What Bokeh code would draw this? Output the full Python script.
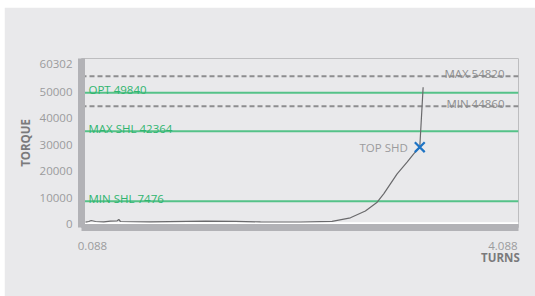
from bokeh.plotting import figure
from bokeh.models import Range1d, FixedTicker, Span, LinearAxis
from bokeh.core.properties import value
from bokeh.embed import file_html
from bokeh.resources import INLINE

# ---- data ----
turns = [0.093, 0.123, 0.145, 0.185, 0.261, 0.323, 0.385, 0.400, 0.415, 0.692,
         1.200, 1.476, 1.707, 2.076, 2.368, 2.537, 2.675, 2.784, 2.844, 2.906,
         2.968, 3.060, 3.121, 3.177, 3.208]
torque = [865, 1128, 1504, 1128, 1015, 1241, 1391, 1880, 1128, 1015,
          1278, 1203, 978, 940, 1166, 2519, 5076, 8385, 11543, 15303,
          19063, 23425, 26583, 29065, 51625]

top_shd_turns = [3.177]
top_shd_torque = [29065]
top_shd_text = ["TOP SHD"]

limit_labels = ["MAX 54820", "MIN 44860"]
limit_levels = [55750, 44470]
shoulder_labels = ["OPT 49840", "MAX SHL 42364", "MIN SHL 7476"]
shoulder_levels = [49510, 35080, 8760]

y_ticks = [0, 10000, 20000, 30000, 40000, 50000, 60302]
x_ticks = [0.088, 4.088]
x_tick_labels = ["0.088", "4.088"]
x_title = "TURNS"
baseline_level = 450

X_START, X_END = 0.0557, 4.088
Y_START, Y_END = -1128, 62408

BG = "#e9e9eb"
BAR = "#b2b2b6"
GREEN_LINE = "#55c288"
GREEN_TEXT = "#2fb56f"
DASH = "#8d8d8f"
TICK_TXT = "#9b9b9d"
AXIS_TXT = "#7a7a7c"
FONT = "Open Sans"
FS = "11.5px"
NB = "\u00a0"

p = figure(width=531, height=289, output_backend="svg", toolbar_location=None,
           x_range=Range1d(X_START, X_END), y_range=Range1d(Y_START, Y_END),
           min_border_left=77, min_border_right=17, min_border_top=51,
           min_border_bottom=69, background_fill_color=BG, border_fill_color=BG,
           outline_line_color="#bdbdbf", outline_line_width=1)
p.styles = {"margin-left": "4px", "margin-top": "7px"}
p.grid.visible = False

# y axis
ya = p.yaxis[0]
ya.ticker = FixedTicker(ticks=y_ticks)
ya.major_tick_line_color = None
ya.minor_tick_line_color = None
ya.major_tick_out = 0
ya.major_tick_in = 0
ya.axis_line_color = BAR
ya.axis_line_width = 7
ya.major_label_text_color = TICK_TXT
ya.major_label_text_font = FONT
ya.major_label_text_font_size = FS
ya.major_label_standoff = 9
ya.axis_label = "TORQUE"
ya.axis_label_text_font = FONT
ya.axis_label_text_font_style = "bold"
ya.axis_label_text_color = AXIS_TXT
ya.axis_label_text_font_size = FS
ya.axis_label_standoff = 4

# x axis: first label hangs right of its tick, last label ends at its tick
xa = p.xaxis[0]
xa.ticker = FixedTicker(ticks=x_ticks)
xa.major_label_overrides = {x_ticks[0]: NB * 5 + x_tick_labels[0],
                            x_ticks[1]: x_tick_labels[1] + NB * 6}
xa.major_tick_line_color = None
xa.minor_tick_line_color = None
xa.major_tick_out = 0
xa.major_tick_in = 0
xa.axis_line_color = BAR
xa.axis_line_width = 7
xa.major_label_text_color = TICK_TXT
xa.major_label_text_font = FONT
xa.major_label_text_font_size = FS
xa.major_label_standoff = 10

# axis title row, right-aligned under the last tick
xt = LinearAxis(ticker=FixedTicker(ticks=[x_ticks[1]]),
                major_label_overrides={x_ticks[1]: x_title + NB * 3},
                axis_line_color=None, major_tick_line_color=None,
                minor_tick_line_color=None, major_tick_out=0, major_tick_in=0,
                major_label_text_font=FONT, major_label_text_font_size=FS,
                major_label_text_font_style="bold", major_label_text_color=AXIS_TXT,
                major_label_standoff=-6)
p.add_layout(xt, "below")

# baseline white line
p.add_layout(Span(location=baseline_level, dimension="width", line_color="white",
                  line_width=2, level="underlay"))

# limit lines
for lv in limit_levels:
    p.add_layout(Span(location=lv, dimension="width", line_color=DASH, line_width=2,
                      line_dash="5 3", level="underlay"))
for lv in shoulder_levels:
    p.add_layout(Span(location=lv, dimension="width", line_color=GREEN_LINE,
                      line_width=2, level="underlay"))

p.text(x=[X_END] * len(limit_levels), y=limit_levels, text=limit_labels,
       text_align="right", text_baseline="alphabetic", x_offset=-14, y_offset=-3,
       text_font=value(FONT), text_font_size=FS, text_color=DASH)
p.text(x=[X_START] * len(shoulder_levels), y=shoulder_levels, text=shoulder_labels,
       text_align="left", text_baseline="alphabetic", x_offset=7, y_offset=-3,
       text_font=value(FONT), text_font_size=FS, text_color=GREEN_TEXT)

# curve
p.line(turns, torque, line_color="#6a6a6c", line_width=1.2)

# top shoulder marker
p.scatter(top_shd_turns, top_shd_torque, marker="x", size=14, line_width=2.2,
          line_color="#1f74c4")
p.text(x=top_shd_turns, y=top_shd_torque, text=top_shd_text, text_align="right",
       text_baseline="middle", x_offset=-12, text_font=value(FONT),
       text_font_size=FS, text_color=TICK_TXT)

open("out.html", "w").write(file_html(p, INLINE))
